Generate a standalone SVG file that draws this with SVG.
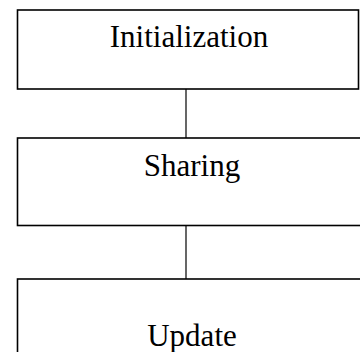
<svg xmlns="http://www.w3.org/2000/svg" width="360" height="352" viewBox="0 0 360 352">
<style>
.box{fill:#fff;stroke:#000;stroke-width:1.6}
.lbl{font-family:"Liberation Serif","Times New Roman",serif;font-size:31px;fill:#000;text-anchor:middle}
.conn{stroke:#000;stroke-width:1.2;fill:none}
</style>
<rect width="360" height="352" fill="#fff"/>
<g id="connectors">
<line class="conn" x1="186" y1="89" x2="186" y2="138"/>
<line class="conn" x1="186" y1="225.5" x2="186" y2="279"/>
</g>
<g id="node-initialization">
<rect class="box" x="17.5" y="10" width="341" height="79"/>
<text class="lbl" x="189" y="47">Initialization</text>
</g>
<g id="node-sharing">
<rect class="box" x="17.5" y="138" width="360" height="87.5"/>
<text class="lbl" x="192" y="175.5">Sharing</text>
</g>
<g id="node-update">
<rect class="box" x="17.5" y="279" width="360" height="100"/>
<text class="lbl" x="192" y="346">Update</text>
</g>
</svg>
